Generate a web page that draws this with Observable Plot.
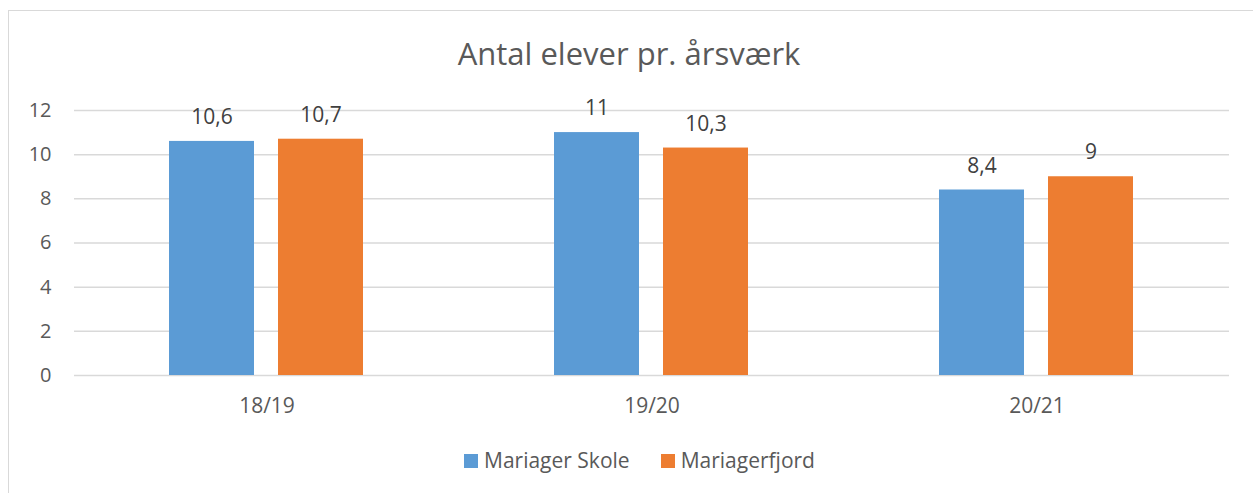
<!DOCTYPE html>
<html>
<head>
<meta charset="utf-8">
<script src="https://cdn.jsdelivr.net/npm/d3@7"></script>
<script src="https://cdn.jsdelivr.net/npm/@observablehq/plot@0.6"></script>
<style>
  html, body { margin: 0; padding: 0; background: #fff; width: 1253px; height: 493px; overflow: hidden; font-family: "Open Sans", sans-serif; }
  #frame { position: absolute; left: 8px; top: 10px; width: 1270px; height: 500px; border: 1px solid #d9d9d9; box-sizing: border-box; }
  #title { position: absolute; left: 0; top: 33px; width: 1258px; text-align: center; font-size: 31px; color: #595959; line-height: 40px; }
  #chart { position: absolute; left: 0; top: 80px; }
  #legend { position: absolute; left: 464px; top: 446px; font-size: 21px; color: #595959; line-height: 28px; white-space: nowrap; }
  #legend span.sw { display: inline-block; width: 14px; height: 14px; margin-right: 6px; vertical-align: middle; position: relative; top: -1px; }
  #legend span.item { margin-right: 31px; }
</style>
</head>
<body>
<div id="frame"></div>
<div id="title">Antal elever pr. årsværk</div>
<div id="chart"></div>
<div id="legend"></div>
<script>
const categories = ["18/19", "19/20", "20/21"];
const seriesNames = ["Mariager Skole", "Mariagerfjord"];
const mariagerSkole = [10.6, 11, 8.4];
const mariagerfjord = [10.7, 10.3, 9];
const yTicks = [0, 2, 4, 6, 8, 10, 12];
const colors = ["#5B9BD5", "#ED7D31"];

const data = [];
categories.forEach((c, i) => {
  data.push({year: c, series: seriesNames[0], value: mariagerSkole[i]});
  data.push({year: c, series: seriesNames[1], value: mariagerfjord[i]});
});
const fmt = v => String(v).replace(".", ",");

const chart = Plot.plot({
  width: 1253,
  height: 360,
  marginTop: 30,
  marginBottom: 65,
  marginLeft: 73,
  marginRight: 23,
  style: { fontFamily: "Open Sans, sans-serif", fontSize: "20px", color: "#595959", background: "transparent" },
  fx: { domain: categories, padding: 0, axis: null },
  x: { domain: seriesNames, paddingInner: 0.218, paddingOuter: 0.862, axis: null },
  y: { domain: [0, 12], axis: null },
  color: { domain: seriesNames, range: colors },
  marks: [
    Plot.gridY(yTicks, { stroke: "#d9d9d9", strokeOpacity: 1, strokeWidth: 1.5 }),
    Plot.axisY(yTicks, { tickSize: 0, tickPadding: 23, fontSize: 20, fill: "#595959", label: null }),
    Plot.axisFx({ anchor: "bottom", tickSize: 0, tickPadding: 23, fontSize: 21, fill: "#595959", label: null }),
    Plot.barY(data, { fx: "year", x: "series", y: "value", fill: "series" }),
    Plot.text(data, { fx: "year", x: "series", y: "value", text: d => fmt(d.value), dy: -24, fontSize: 21, fill: "#404040" })
  ]
});
document.getElementById("chart").appendChild(chart);

const legend = document.getElementById("legend");
seriesNames.forEach((s, i) => {
  const item = document.createElement("span");
  item.className = "item";
  const sw = document.createElement("span");
  sw.className = "sw";
  sw.style.background = colors[i];
  item.appendChild(sw);
  item.appendChild(document.createTextNode(s));
  legend.appendChild(item);
});
</script>
</body>
</html>
